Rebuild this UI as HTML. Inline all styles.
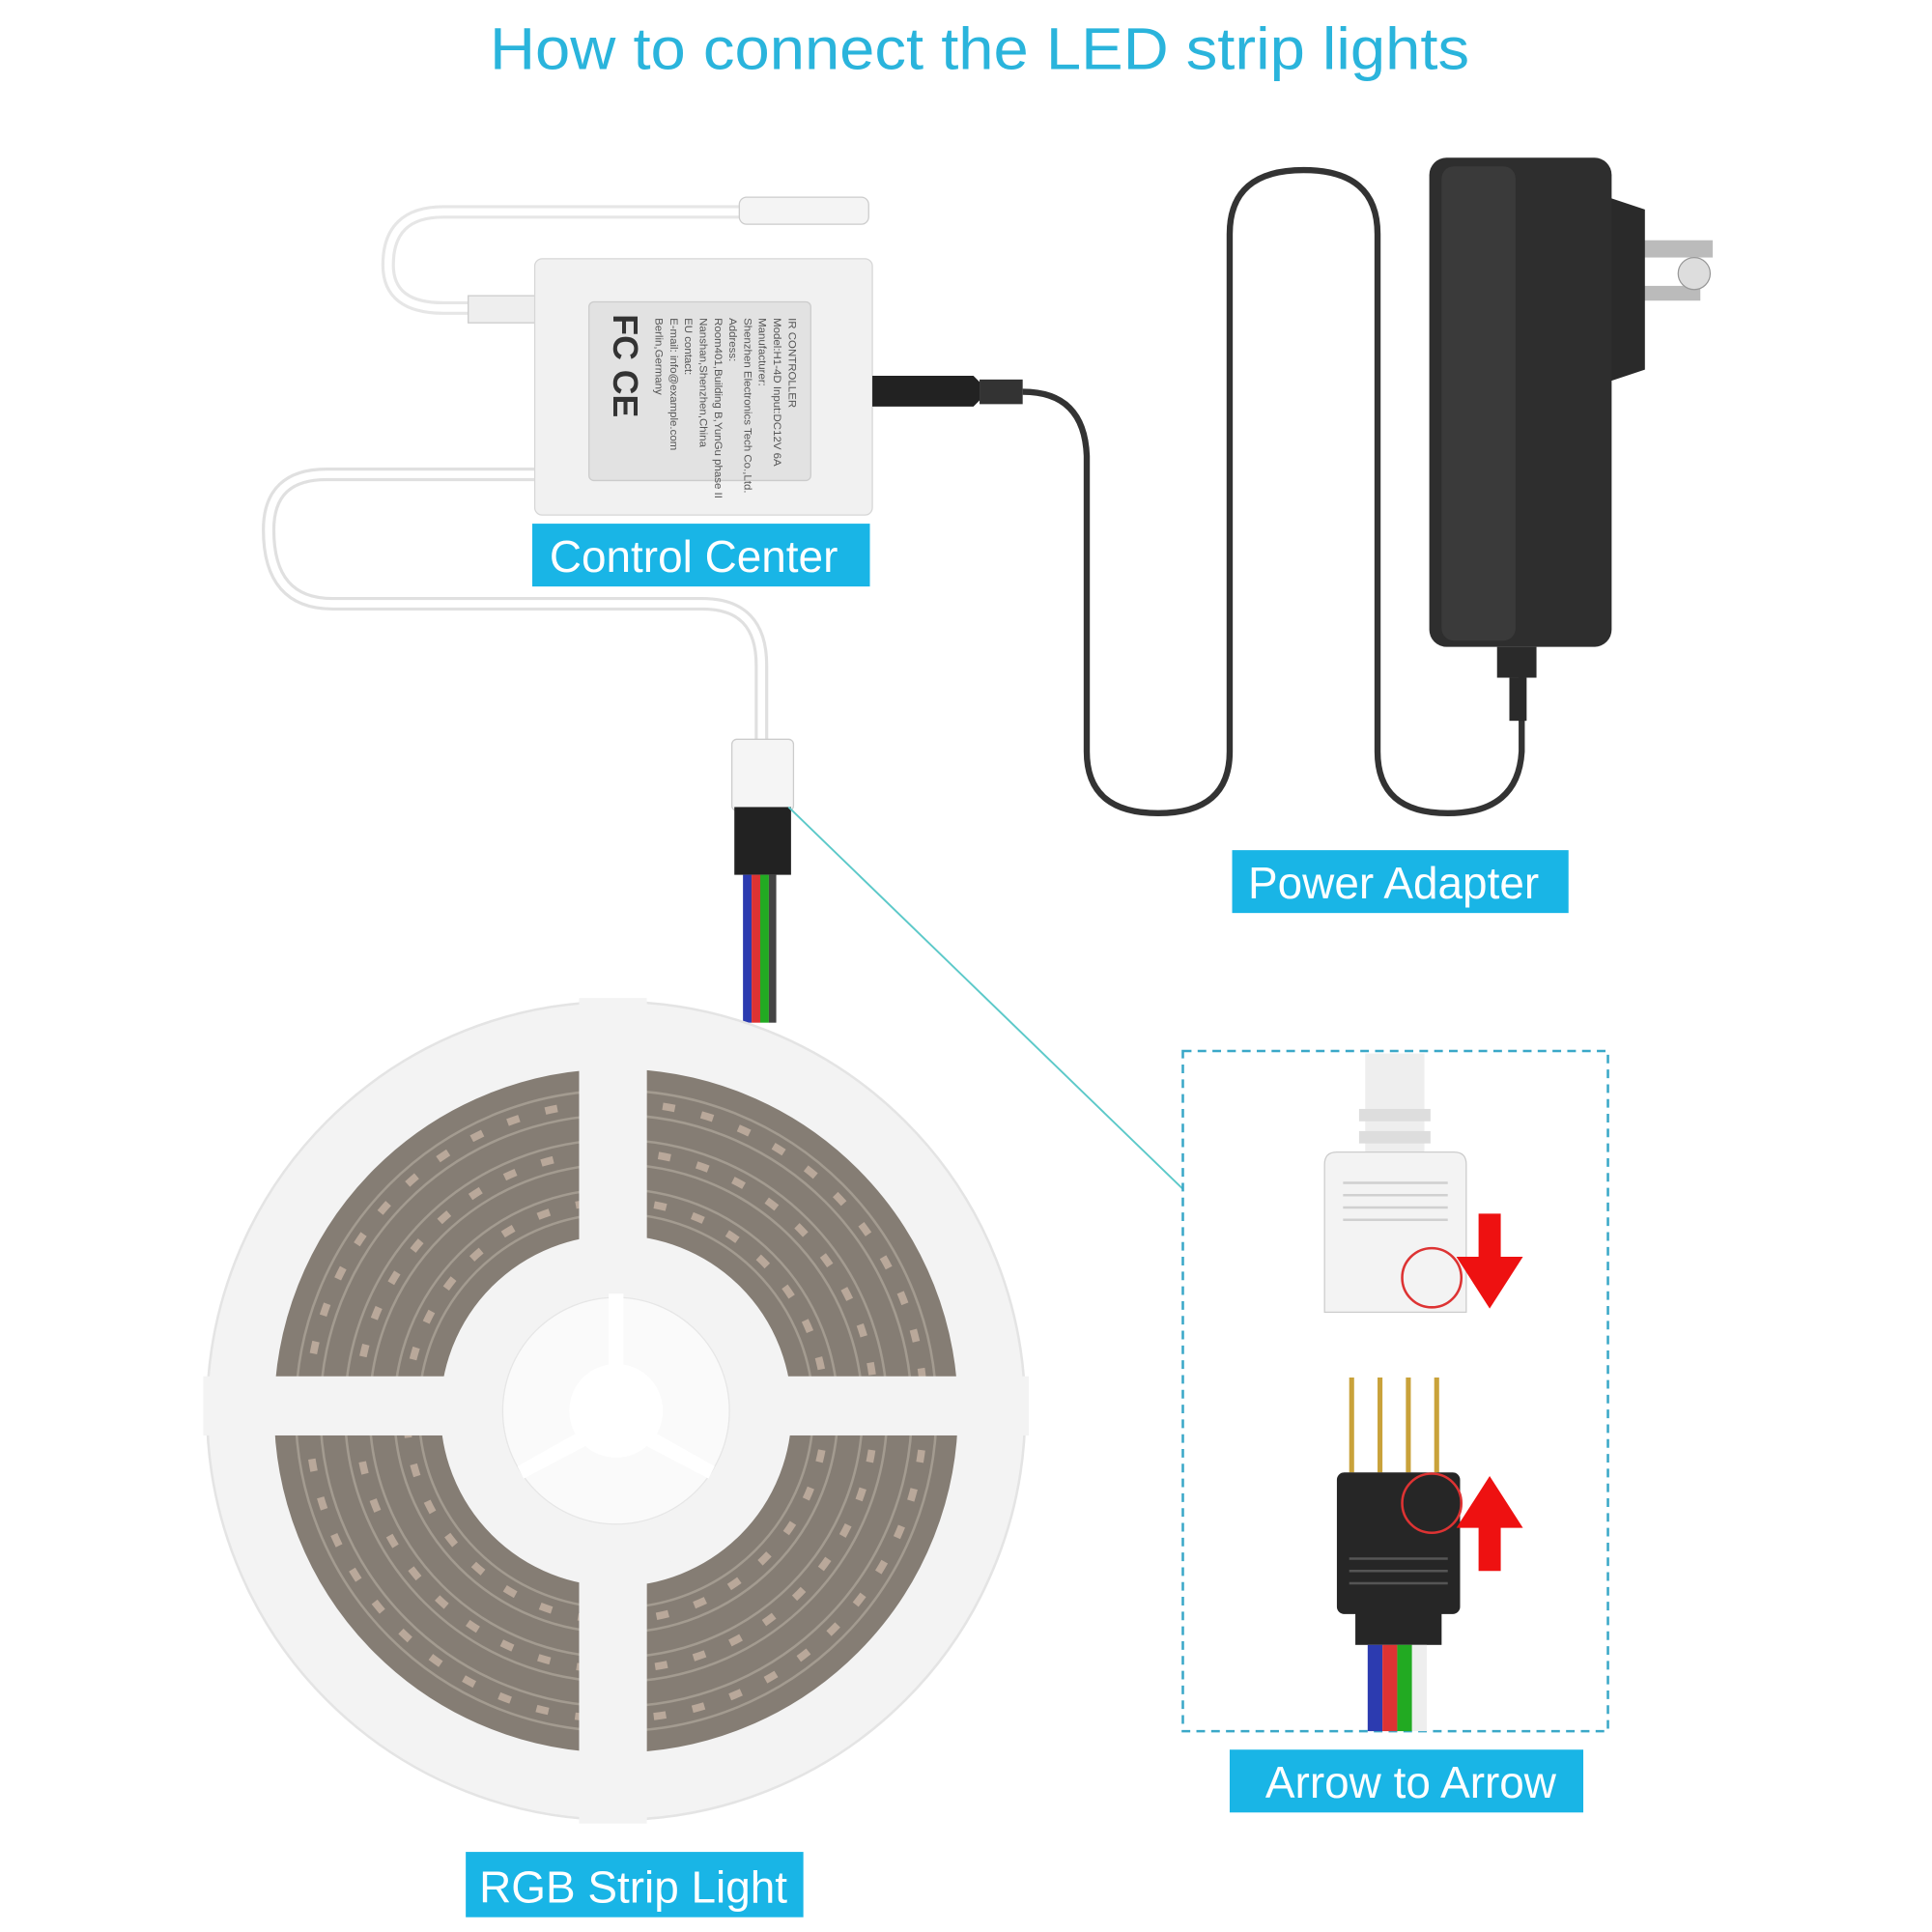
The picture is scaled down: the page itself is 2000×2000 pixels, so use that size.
<!DOCTYPE html>
<html><head><meta charset="utf-8"><style>
html,body{margin:0;padding:0;background:#fff;}
svg{display:block}
text{font-family:"Liberation Sans","DejaVu Sans",sans-serif;}
</style></head><body>
<svg width="2000" height="2000" viewBox="0 0 1568 1568" xmlns="http://www.w3.org/2000/svg">
<rect width="1568" height="1568" fill="#fff"/>
<text x="795" y="56" text-anchor="middle" font-size="48" fill="#2ab4dc" textLength="795" lengthAdjust="spacingAndGlyphs">How to connect the LED strip lights</text>

<!-- white cables -->
<path d="M700 172 L360 172 Q315 172 315 215 Q315 250 360 250 L434 250" fill="none" stroke="#e6e6e6" stroke-width="11"/>
<path d="M700 172 L360 172 Q315 172 315 215 Q315 250 360 250 L434 250" fill="none" stroke="#fff" stroke-width="6"/>
<rect x="600" y="160" width="105" height="22" rx="6" fill="#f4f4f4" stroke="#ccc"/>
<rect x="380" y="240" width="56" height="22" fill="#eee" stroke="#ccc"/>
<path d="M434 385 L265 385 Q218 385 218 430 Q218 490 270 490 L570 490 Q618 490 618 540 L618 605" fill="none" stroke="#e0e0e0" stroke-width="11"/>
<path d="M434 385 L265 385 Q218 385 218 430 Q218 490 270 490 L570 490 Q618 490 618 540 L618 605" fill="none" stroke="#fff" stroke-width="6"/>

<!-- controller -->
<rect x="434" y="210" width="274" height="208" rx="6" fill="#f1f1f1" stroke="#d6d6d6"/>
<rect x="478" y="245" width="180" height="145" rx="4" fill="#e2e2e2" stroke="#ccc"/>
<g font-size="9" fill="#555">
<text transform="translate(640,258) rotate(90)">IR CONTROLLER</text>
<text transform="translate(628,258) rotate(90)">Model:H1-4D  Input:DC12V 6A</text>
<text transform="translate(616,258) rotate(90)">Manufacturer:</text>
<text transform="translate(604,258) rotate(90)">Shenzhen Electronics Tech Co.,Ltd.</text>
<text transform="translate(592,258) rotate(90)">Address:</text>
<text transform="translate(580,258) rotate(90)">Room401,Building B,YunGu phase II</text>
<text transform="translate(568,258) rotate(90)">Nanshan,Shenzhen,China</text>
<text transform="translate(556,258) rotate(90)">EU contact:</text>
<text transform="translate(544,258) rotate(90)">E-mail: info@example.com</text>
<text transform="translate(532,258) rotate(90)">Berlin,Germany</text>
</g>
<text transform="translate(498,255) rotate(90)" font-size="28" font-weight="bold" fill="#333">FC CE</text>
<path d="M708 305 L790 305 L795 310 L795 325 L790 330 L708 330 Z" fill="#222"/>
<rect x="795" y="308" width="35" height="20" fill="#333"/>
<!-- black cable -->
<path d="M830 318 Q880 318 882 370 L882 610 Q882 660 940 660 Q998 660 998 610 L998 190 Q998 138 1058 138 Q1118 138 1118 190 L1118 610 Q1118 660 1175 660 Q1232 660 1235 610 L1235 540" fill="none" stroke="#333" stroke-width="5"/>
<!-- adapter -->
<rect x="1310" y="195" width="80" height="14" fill="#bbb"/>
<rect x="1310" y="232" width="70" height="12" fill="#bbb"/>
<circle cx="1375" cy="222" r="13" fill="#ddd" stroke="#999"/>
<path d="M1305 160 L1335 170 L1335 300 L1305 310 Z" fill="#2a2a2a"/>
<rect x="1160" y="128" width="148" height="397" rx="14" fill="#2e2e2e"/>
<rect x="1170" y="135" width="60" height="385" rx="10" fill="#3a3a3a"/>
<rect x="1215" y="525" width="32" height="25" fill="#2a2a2a"/>
<rect x="1225" y="550" width="14" height="35" fill="#2a2a2a"/>

<!-- labels -->
<rect x="432" y="425" width="274" height="51" fill="#19b5e6"/>
<text x="563" y="464" text-anchor="middle" font-size="36" fill="#fff">Control Center</text>
<rect x="1000" y="690" width="273" height="51" fill="#19b5e6"/>
<text x="1131" y="729" text-anchor="middle" font-size="36" fill="#fff">Power Adapter</text>
<rect x="998" y="1420" width="287" height="51" fill="#19b5e6"/>
<text x="1145" y="1459" text-anchor="middle" font-size="36" fill="#fff">Arrow to Arrow</text>
<rect x="378" y="1503" width="274" height="53" fill="#19b5e6"/>
<text x="514" y="1544" text-anchor="middle" font-size="36" fill="#fff">RGB Strip Light</text>

<!-- connector at reel -->
<rect x="594" y="600" width="50" height="58" rx="4" fill="#f5f5f5" stroke="#ccc"/>
<rect x="596" y="655" width="46" height="55" fill="#222"/>
<rect x="603" y="710" width="7" height="120" fill="#2c3bb0"/>
<rect x="610" y="710" width="7" height="120" fill="#d33"/>
<rect x="617" y="710" width="7" height="120" fill="#2a2"/>
<rect x="624" y="710" width="6" height="120" fill="#444"/>
<line x1="640" y1="655" x2="960" y2="965" stroke="#5cc9c9" stroke-width="1.5"/>

<!-- reel -->
<circle cx="500" cy="1145" r="332" fill="#f3f3f3" stroke="#e4e4e4" stroke-width="2"/>
<circle cx="500" cy="1145" r="210" fill="none" stroke="#857d74" stroke-width="135"/>
<g fill="none" stroke="#a39b90" stroke-width="2">
<circle cx="500" cy="1145" r="160"/><circle cx="500" cy="1145" r="180"/><circle cx="500" cy="1145" r="200"/><circle cx="500" cy="1145" r="220"/><circle cx="500" cy="1145" r="240"/><circle cx="500" cy="1145" r="260"/>
</g>
<g fill="none" stroke="#b9a89a" stroke-width="6" stroke-dasharray="10 22">
<circle cx="500" cy="1145" r="170"/><circle cx="500" cy="1145" r="210"/><circle cx="500" cy="1145" r="250"/>
</g>
<rect x="470" y="810" width="55" height="670" fill="#f3f3f3"/>
<rect x="165" y="1117" width="670" height="48" fill="#f3f3f3"/>
<circle cx="500" cy="1145" r="130" fill="#f3f3f3"/>
<circle cx="500" cy="1145" r="92" fill="#fafafa" stroke="#e6e6e6"/>
<path d="M500 1145 L420 1190 L425 1200 L505 1158 Z M500 1145 L580 1190 L575 1200 L495 1158 Z M494 1145 L494 1050 L506 1050 L506 1145 Z" fill="#fff"/>
<circle cx="500" cy="1145" r="38" fill="#fff"/>

<!-- dashed box -->
<rect x="960" y="853" width="345" height="552" fill="none" stroke="#3aa8c8" stroke-width="2" stroke-dasharray="7 5"/>
<rect x="1108" y="855" width="48" height="90" fill="#eee"/>
<rect x="1103" y="900" width="58" height="10" fill="#ddd"/>
<rect x="1103" y="918" width="58" height="10" fill="#ddd"/>
<path d="M1075 945 Q1075 935 1085 935 L1180 935 Q1190 935 1190 945 L1190 1065 L1075 1065 Z" fill="#f3f3f3" stroke="#ccc"/>
<g stroke="#d0d0d0" stroke-width="2"><line x1="1090" y1="960" x2="1175" y2="960"/><line x1="1090" y1="970" x2="1175" y2="970"/><line x1="1090" y1="980" x2="1175" y2="980"/><line x1="1090" y1="990" x2="1175" y2="990"/></g>
<circle cx="1162" cy="1037" r="24" fill="none" stroke="#d33" stroke-width="2"/>
<path d="M1200 985 L1218 985 L1218 1020 L1236 1020 L1209 1062 L1182 1020 L1200 1020 Z" fill="#ee1111"/>
<g stroke="#c9a23a" stroke-width="4"><line x1="1097" y1="1118" x2="1097" y2="1195"/><line x1="1120" y1="1118" x2="1120" y2="1195"/><line x1="1143" y1="1118" x2="1143" y2="1195"/><line x1="1166" y1="1118" x2="1166" y2="1195"/></g>
<rect x="1085" y="1195" width="100" height="115" rx="6" fill="#262626"/>
<rect x="1100" y="1305" width="70" height="30" fill="#262626"/>
<g stroke="#555" stroke-width="2"><line x1="1095" y1="1265" x2="1175" y2="1265"/><line x1="1095" y1="1275" x2="1175" y2="1275"/><line x1="1095" y1="1285" x2="1175" y2="1285"/></g>
<circle cx="1162" cy="1220" r="24" fill="none" stroke="#d33" stroke-width="2"/>
<rect x="1110" y="1335" width="12" height="70" fill="#2c3bb0"/>
<rect x="1122" y="1335" width="12" height="70" fill="#d33"/>
<rect x="1134" y="1335" width="12" height="70" fill="#2a2"/>
<rect x="1146" y="1335" width="12" height="70" fill="#eee"/>
<path d="M1200 1275 L1218 1275 L1218 1240 L1236 1240 L1209 1198 L1182 1240 L1200 1240 Z" fill="#ee1111"/>
</svg>
</body></html>
